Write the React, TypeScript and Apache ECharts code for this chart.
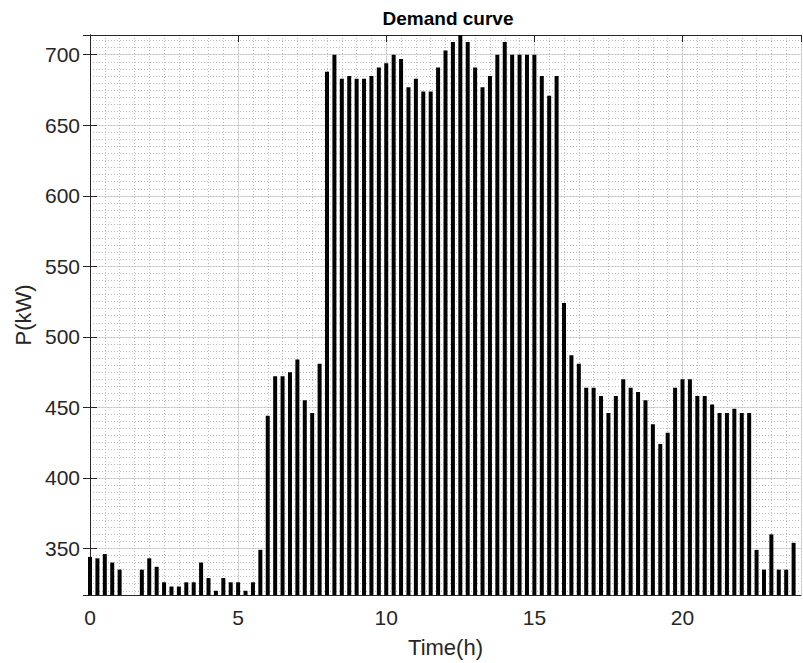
import React, { useEffect, useRef } from "react";
import * as echarts from "echarts";

// Demand (kW) every 15 minutes, grouped by 2-hour blocks
const block00 = [344, 343, 346, 340, 335, 317, 317, 335];
const block02 = [343, 337, 326, 323, 323, 326, 326, 340];
const block04 = [329, 320, 329, 326, 326, 320, 326, 349];
const block06 = [444, 472, 472, 475, 484, 455, 446, 481];
const block08 = [688, 700, 683, 685, 683, 683, 685, 691];
const block10 = [694, 700, 697, 677, 683, 674, 674, 691];
const block12 = [703, 709, 714, 709, 691, 677, 685, 700];
const block14 = [709, 700, 700, 700, 700, 685, 671, 685];
const block16 = [524, 487, 481, 464, 464, 458, 446, 458];
const block18 = [470, 464, 461, 455, 438, 424, 432, 464];
const block20 = [470, 470, 458, 458, 452, 446, 446, 449];
const block22 = [446, 446, 349, 335, 360, 335, 335, 354];

const stepHours = 0.25;
const xMin = 0;
const xMax = 24;
const yMin = 317;
const yMax = 714;
const xTickStep = 5;
const yTickStep = 50;
const xMinorStep = 0.5;
const yMinorStep = 5;

const titleText = "Demand curve";
const xName = "Time(h)";
const yName = "P(kW)";

const FONT = "'Liberation Sans', Arial, Helvetica, sans-serif";
const INK = "#262626";

export default function App() {
  const ref = useRef<HTMLDivElement>(null);

  useEffect(() => {
    if (!ref.current) return;
    const chart = echarts.init(ref.current, undefined, { renderer: "svg" });

    const power = [
      ...block00, ...block02, ...block04, ...block06, ...block08, ...block10,
      ...block12, ...block14, ...block16, ...block18, ...block20, ...block22,
    ];
    const data = power.map((v, i) => [i * stepHours, v]);

    const labelStyle = { color: INK, fontSize: 21, fontFamily: FONT };

    chart.setOption({
      animation: false,
      backgroundColor: "#ffffff",
      grid: { left: 90, right: 2, top: 35, bottom: 66, containLabel: false },
      graphic: [
        {
          type: "text",
          x: 448,
          y: 9,
          style: {
            text: titleText,
            textAlign: "center",
            textVerticalAlign: "top",
            fontSize: 19,
            fontWeight: "bold",
            fontFamily: FONT,
            fill: "#000",
          },
        },
      ],
      xAxis: [
        {
          type: "value",
          position: "bottom",
          min: xMin,
          max: xMax,
          minInterval: xTickStep,
          maxInterval: xTickStep,
          axisLine: { show: true, lineStyle: { color: INK, width: 1 } },
          axisTick: { show: true, inside: true, length: 7, lineStyle: { color: INK } },
          axisLabel: { ...labelStyle, margin: 12, showMaxLabel: false },
          splitLine: { show: true, lineStyle: { color: "#dadada", width: 1 } },
          name: xName,
          nameLocation: "middle",
          nameGap: 41,
          nameTextStyle: { color: INK, fontSize: 22, fontFamily: FONT },
        },
        {
          type: "value",
          position: "top",
          min: xMin,
          max: xMax,
          minInterval: xTickStep,
          maxInterval: xTickStep,
          axisLine: { show: true, lineStyle: { color: INK, width: 1 } },
          axisTick: { show: true, inside: true, length: 7, lineStyle: { color: INK } },
          axisLabel: { show: false },
          splitLine: { show: false },
        },
        {
          type: "value",
          position: "bottom",
          min: xMin,
          max: xMax,
          minInterval: xMinorStep,
          maxInterval: xMinorStep,
          axisLine: { show: false },
          axisTick: { show: false },
          axisLabel: { show: false },
          splitLine: { show: true, lineStyle: { color: "#bcbcbc", width: 1, type: [1, 2] } },
        },
      ],
      yAxis: [
        {
          type: "value",
          position: "left",
          min: yMin,
          max: yMax,
          minInterval: yTickStep,
          maxInterval: yTickStep,
          axisLine: { show: true, lineStyle: { color: INK, width: 1 } },
          axisTick: { show: true, inside: true, length: 7, lineStyle: { color: INK } },
          axisLabel: { ...labelStyle, margin: 10, showMinLabel: false, showMaxLabel: false },
          splitLine: { show: true, lineStyle: { color: "#dadada", width: 1 } },
          name: yName,
          nameLocation: "middle",
          nameGap: 54,
          nameTextStyle: { color: INK, fontSize: 22, fontFamily: FONT },
        },
        {
          type: "value",
          position: "right",
          min: yMin,
          max: yMax,
          minInterval: yTickStep,
          maxInterval: yTickStep,
          axisLine: { show: true, lineStyle: { color: INK, width: 1 } },
          axisTick: { show: true, inside: true, length: 7, lineStyle: { color: INK } },
          axisLabel: { show: false },
          splitLine: { show: false },
        },
        {
          type: "value",
          position: "left",
          min: yMin,
          max: yMax,
          minInterval: yMinorStep,
          maxInterval: yMinorStep,
          axisLine: { show: false },
          axisTick: { show: false },
          axisLabel: { show: false },
          splitLine: { show: true, lineStyle: { color: "#bcbcbc", width: 1, type: [1, 2] } },
        },
      ],
      series: [
        {
          type: "bar",
          xAxisIndex: 0,
          yAxisIndex: 0,
          data,
          barWidth: 4,
          clip: true,
          itemStyle: { color: "#000000" },
          z: 5,
        },
      ],
    });

    return () => chart.dispose();
  }, []);

  return (
    <div
      ref={ref}
      style={{ position: "fixed", left: 0, top: 0, width: 803, height: 663, background: "#fff" }}
    />
  );
}
